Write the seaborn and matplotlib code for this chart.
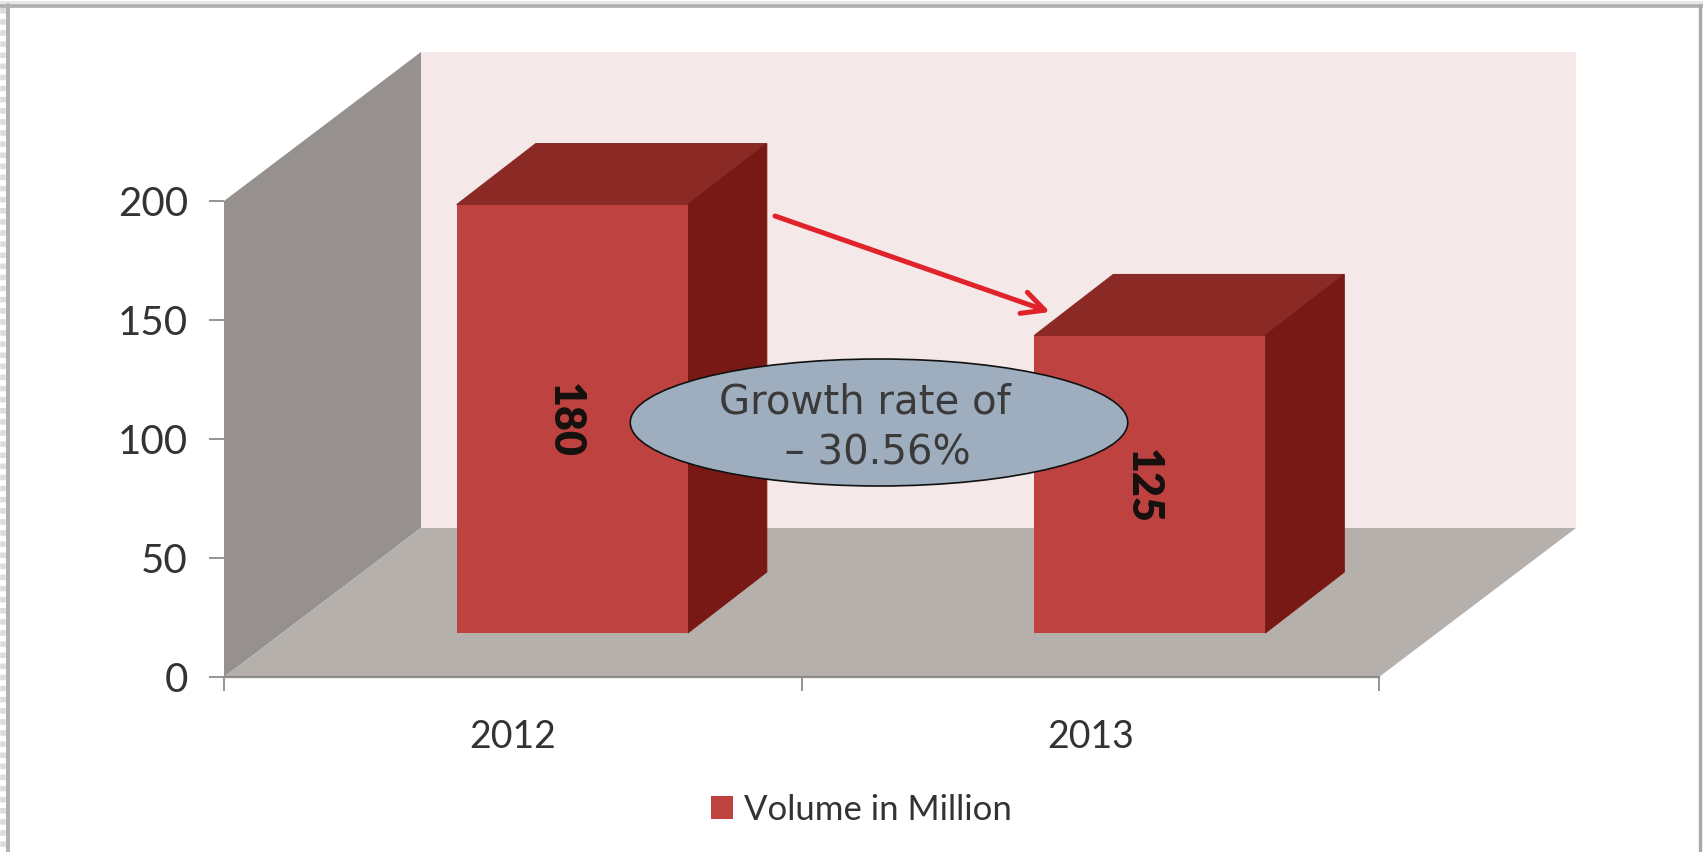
import numpy as np
import pandas as pd
import matplotlib
matplotlib.use("Agg")
import matplotlib.pyplot as plt
from matplotlib.patches import Polygon, Ellipse, FancyArrowPatch
from matplotlib.lines import Line2D
import seaborn as sns

years = ["2012", "2013"]
volumes = [180, 125]
series_name = "Volume in Million"
y_ticks = [0, 50, 100, 150, 200]

W, H = 1703, 852
sns.set_theme(style="white")
plt.rcParams["font.family"] = ["Lato", "DejaVu Sans"]
fig = plt.figure(figsize=(W / 100, H / 100), dpi=100, facecolor="white")

# plot box: front plane of the 3-D chart, in pixels
L, R, T, B = 224, 1379, 201, 677
ax = fig.add_axes([L / W, 1 - B / H, (R - L) / W, (B - T) / H])
ax.patch.set_visible(False)

# depth offsets, converted to data units
ppx = (R - L) / 2
ppy = (B - T) / 200
wall_dx, wall_dy = 197 / ppx, 149 / ppy
bar_dx, bar_dy = 79 / ppx, 61 / ppy
bar_x_shift, bar_y_shift = 59.5 / ppx, 44 / ppy

df = pd.DataFrame({"pos": np.arange(len(years)) + bar_x_shift, "v": volumes})
sns.barplot(data=df, x="pos", y="v", native_scale=True, width=0.4,
            bottom=bar_y_shift, color="#BE4340", saturation=1, linewidth=0,
            ax=ax, zorder=5)
ax.set_xlim(-0.5, 1.5)
ax.set_ylim(0, 200)

# walls
x0, x1, y1 = -0.5, 1.5, 200
kw = dict(closed=True, clip_on=False)
ax.add_patch(Polygon([(x0 + wall_dx, wall_dy), (x1 + wall_dx, wall_dy),
                      (x1 + wall_dx, y1 + wall_dy), (x0 + wall_dx, y1 + wall_dy)],
                     fc="#F4E8E8", lw=0, zorder=1, **kw))
ax.add_patch(Polygon([(x0, 0), (x0 + wall_dx, wall_dy),
                      (x0 + wall_dx, y1 + wall_dy), (x0, y1)],
                     fc="#96918E", lw=0, zorder=2, **kw))
ax.add_patch(Polygon([(x0, 0), (x1, 0), (x1 + wall_dx, wall_dy), (x0 + wall_dx, wall_dy)],
                     fc="#B6B0AD", lw=0, zorder=2, **kw))

# bar top and side faces from the seaborn bars
for bar in ax.containers[0]:
    xa, xb = bar.get_x(), bar.get_x() + bar.get_width()
    ya, yb = bar.get_y(), bar.get_y() + bar.get_height()
    ax.add_patch(Polygon([(xa, yb), (xb, yb), (xb + bar_dx, yb + bar_dy), (xa + bar_dx, yb + bar_dy)],
                         fc="#8B2A25", ec="#8B2A25", lw=0.8, zorder=4, **kw))
    ax.add_patch(Polygon([(xb, ya), (xb + bar_dx, ya + bar_dy), (xb + bar_dx, yb + bar_dy), (xb, yb)],
                         fc="#791915", ec="#791915", lw=0.8, zorder=4, **kw))

value_labels = ax.bar_label(ax.containers[0], labels=[str(v) for v in volumes],
                            label_type="center", rotation=-90, fontweight="heavy",
                            fontsize=31, color="#15100F", zorder=8)
for t in value_labels:
    t.xyann = (-5, -1.5)

# axes
for s in ["top", "right", "left"]:
    ax.spines[s].set_visible(False)
ax.spines["bottom"].set_color("#8E8A88")
ax.spines["bottom"].set_linewidth(1.6)
ax.spines["bottom"].set_zorder(6)
ax.set_yticks(y_ticks)
ax.set_xticks([-0.5, 0.5, 1.5])
ax.set_xticklabels([])
ax.set_xticks([0, 1], labels=years, minor=True)
ax.tick_params(axis="x", which="major", length=10, width=1.3, color="#8E8A88", bottom=True)
ax.tick_params(axis="x", which="minor", length=0, pad=30, labelsize=27, labelcolor="#333333", bottom=True)
ax.tick_params(axis="y", length=11, width=1.3, color="#8E8A88", pad=15, labelsize=29,
               labelcolor="#333333", left=True)
ax.set_xlabel("")
ax.set_ylabel("")

# legend
handles = [plt.Rectangle((0, 0), 1, 1, fc="#BE4340", lw=0)]
fig.legend(handles, [series_name], loc="center", bbox_to_anchor=(861 / W, 1 - 810 / H),
           frameon=False, fontsize=25, labelcolor="#333333", handlelength=0.65,
           handleheight=0.65, handletextpad=0.3, borderpad=0)


# callout, arrow and page frame, placed in figure pixels
def fx(x):
    return x / W


def fy(y):
    return 1 - y / H


fig.add_artist(FancyArrowPatch((fx(775), fy(216)), (fx(1050), fy(312)),
               transform=fig.transFigure, arrowstyle="->,head_length=10,head_width=5",
               color="#E0222A", lw=3.6, mutation_scale=1.6, shrinkA=0, shrinkB=0, zorder=9))
fig.add_artist(Ellipse((fx(879), fy(422.5)), 497.5 / W, 127 / H, transform=fig.transFigure,
                       fc="#9FAEBF", ec="#111111", lw=1.2, zorder=10))
fig.text(fx(865), fy(428), "Growth rate of\n\u00a0\u00a0– 30.56%", ha="center", va="center",
         fontsize=29, family=["DejaVu Sans"], color="#3A3A3A", linespacing=1.36, zorder=11)

frame = [((0, W), (5.5, 5.5), "#ADADAD", 2.6, "-"),
         ((0, W), (1.5, 1.5), "#E6E6E6", 2.0, "-"),
         ((8, 8), (5, H), "#B0B0B0", 2.8, "-"),
         ((3, 3), (8, H), "#DCDCDC", 4.0, (0, (1.0, 1.0))),
         ((1700, 1700), (5, H), "#A8A8A8", 2.4, "-")]
for xs, ys, c, lw, ls in frame:
    fig.add_artist(Line2D([fx(x) for x in xs], [fy(y) for y in ys], color=c, lw=lw, ls=ls,
                          transform=fig.transFigure, zorder=12))

fig.savefig("out.png", dpi=100)
